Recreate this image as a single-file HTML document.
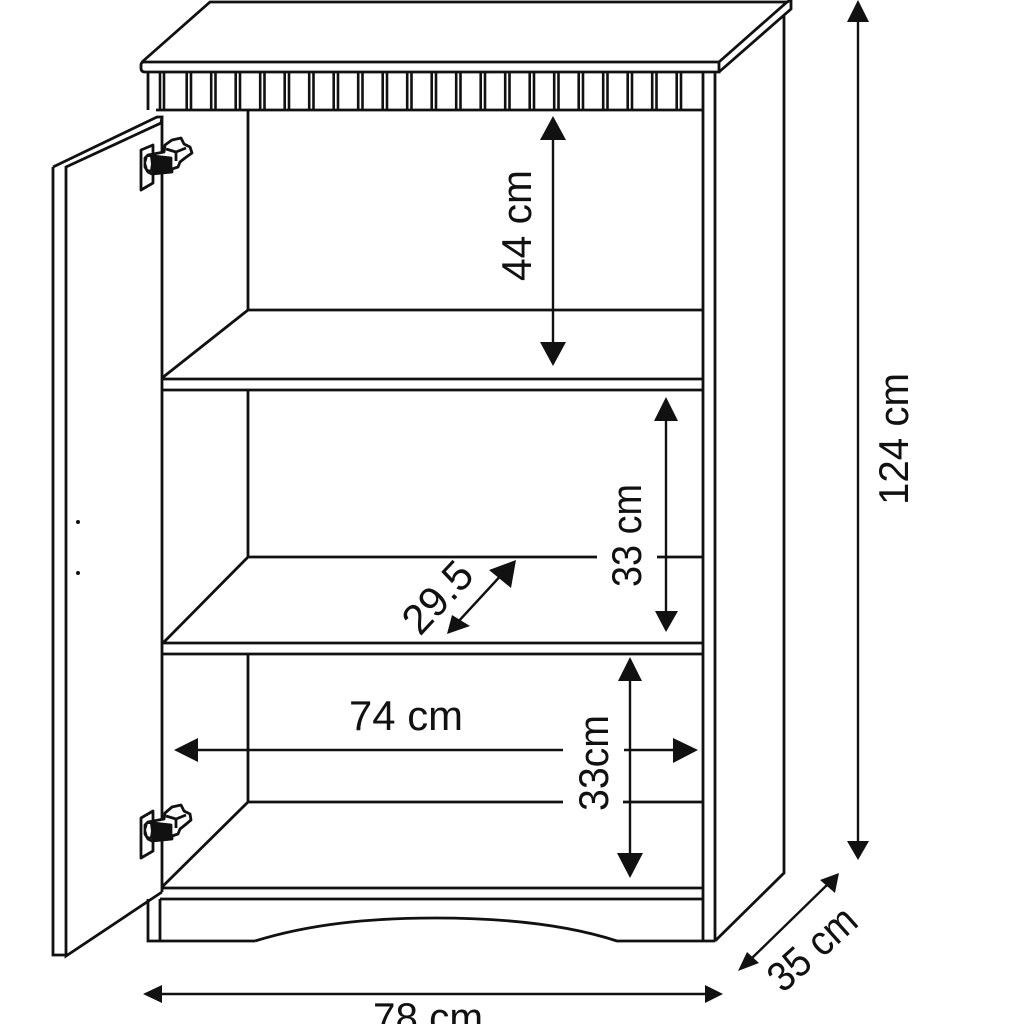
<!DOCTYPE html>
<html><head><meta charset="utf-8"><style>
html,body{margin:0;padding:0;background:#fff}
svg{display:block}
text{font-family:"Liberation Sans",sans-serif;font-size:42px;fill:#111}
</style></head><body>
<svg width="1024" height="1024" viewBox="0 0 1024 1024" xmlns="http://www.w3.org/2000/svg">
<rect width="1024" height="1024" fill="#fff"/>
<g fill="none" stroke="#111" stroke-width="2.8" stroke-linejoin="miter">
<!-- top -->
<path d="M142 62L210 2H787L719 62M787 2L791 0V9L719 72M142 62H719V72H145Q141 72 141 68V65Q141 62 144 62" />
<!-- sides -->
<path d="M784 16V873L715 941M703 72V941M715 72V941"/>
<path d="M148 72V110M148 899V941H255M160 899V941"/>
<!-- frieze -->
<path d="M156 110H704"/>
<path stroke-width="2.6" d="M160 72V110M164 72V110M186.700 72V110M191 72V110M211.200 72V110M215.500 72V110M235.700 72V110M240 72V110M260.200 72V110M264.500 72V110M284.700 72V110M289 72V110M309.200 72V110M313.500 72V110M333.700 72V110M338 72V110M358.200 72V110M362.500 72V110M382.700 72V110M387 72V110M407.200 72V110M411.500 72V110M431.700 72V110M436 72V110M456.200 72V110M460.500 72V110M480.700 72V110M485 72V110M505.200 72V110M509.500 72V110M529.700 72V110M534 72V110M554.200 72V110M558.500 72V110M578.700 72V110M583 72V110M603.200 72V110M607.500 72V110M627.700 72V110M632 72V110M652.200 72V110M656.500 72V110M676.700 72V110M681 72V110"/>
<!-- interior -->
<path d="M248 110V310H703M248 310L162 378M162 379H703M162 390H703"/>
<path d="M248 390V557H597M657 557H703M248 557L163 643M162 643H703M162 654H703"/>
<path d="M248 654V802H563M623 802H703M248 802L162 887M162 888H703M160 899H703"/>
<path d="M255 941C310 924 370 918 435 918C500 918 565 924 617 941H715"/>
<!-- door -->
<path d="M162 116V892M53 167L157 117H162L161 123L66 167V956L162 892M53 167V955H66"/>
</g>
<!-- hinges -->
<g stroke="#111" stroke-width="2.8" fill="#fff" stroke-linejoin="round">
<path d="M141 150L153 145V183L141 190Z"/>
<path d="M165 145L172 140L181 138L184 144L190 147L192 153L185 158L180 162L178 167L172 169V172L152 174L148 172L145 167V158L148 155L164 152Z"/>
<path fill="#111" d="M153 156L171 158V171L153 172Z"/>
<path d="M147 156L151 156L152 164L151 171L147 170L145 163Z" fill="#fff" stroke-width="2"/>
<path fill="none" d="M166 149L176 152L186 148M176 153V161"/>
</g>
<g stroke="#111" stroke-width="2.8" fill="#fff" stroke-linejoin="round" transform="translate(0,668)">
<path d="M141 150L153 143V183L141 190Z"/>
<path d="M165 145L172 139L181 137L184 143L190 146L191 152L185 157L180 161L178 166L172 168V171L152 173L148 171L145 166V157L148 154L164 151Z"/>
<path fill="#111" d="M153 155L171 157V170L153 171Z"/>
<path d="M147 155L151 155L152 163L151 170L147 169L145 162Z" fill="#fff" stroke-width="2"/>
<path fill="none" d="M166 148L176 151L186 147M176 152V160"/>
</g>
<circle cx="78" cy="522" r="2" fill="#111"/><circle cx="78" cy="573" r="2" fill="#111"/>
<!-- dimension lines -->
<g stroke="#111" stroke-width="2.4" fill="none">
<path d="M553 130V350M666 410V615M630 675V860M858 15V845M160 994H708"/>
<path d="M190 750H563M624 750H680"/>
<path d="M828 884L750 960M505 571L457 623"/>
</g>
<g fill="#111">
<path d="M553 116L566 140H540ZM553 366L566 342H540Z"/>
<path d="M666 397L678 421H654ZM666 632L678 611H655Z"/>
<path d="M630 657L642 681H618ZM630 878L643 853H617Z"/>
<path d="M858 0L869 22H847ZM858 860L869 841H847Z"/>
<path d="M174 750L198 738V762ZM698 750L673 738V763Z"/>
<path d="M143 994L162 985V1003ZM723 994L705 985V1003Z"/>
<path d="M839 873L835 893L820 880ZM738 971L747 952L759 963Z"/>
<path d="M516 560L511 588L489 570ZM447 634L452 615L470 626Z"/>
</g>
<!-- labels -->
<text x="349" y="730" textLength="114" lengthAdjust="spacingAndGlyphs">74 cm</text>
<text x="373" y="1032" textLength="110" lengthAdjust="spacingAndGlyphs">78 cm</text>
<text transform="translate(531,281) rotate(-90)" textLength="111" lengthAdjust="spacingAndGlyphs">44 cm</text>
<text transform="translate(641,587) rotate(-90)" textLength="103" lengthAdjust="spacingAndGlyphs">33 cm</text>
<text transform="translate(608,811) rotate(-90)" textLength="96" lengthAdjust="spacingAndGlyphs">33cm</text>
<text transform="translate(908,505) rotate(-90)" textLength="132" lengthAdjust="spacingAndGlyphs">124 cm</text>
<text transform="translate(783,994) rotate(-42)" textLength="104" lengthAdjust="spacingAndGlyphs">35 cm</text>
<text transform="translate(420,637) rotate(-47)" textLength="82" lengthAdjust="spacingAndGlyphs">29.5</text>
</svg>
</body></html>
